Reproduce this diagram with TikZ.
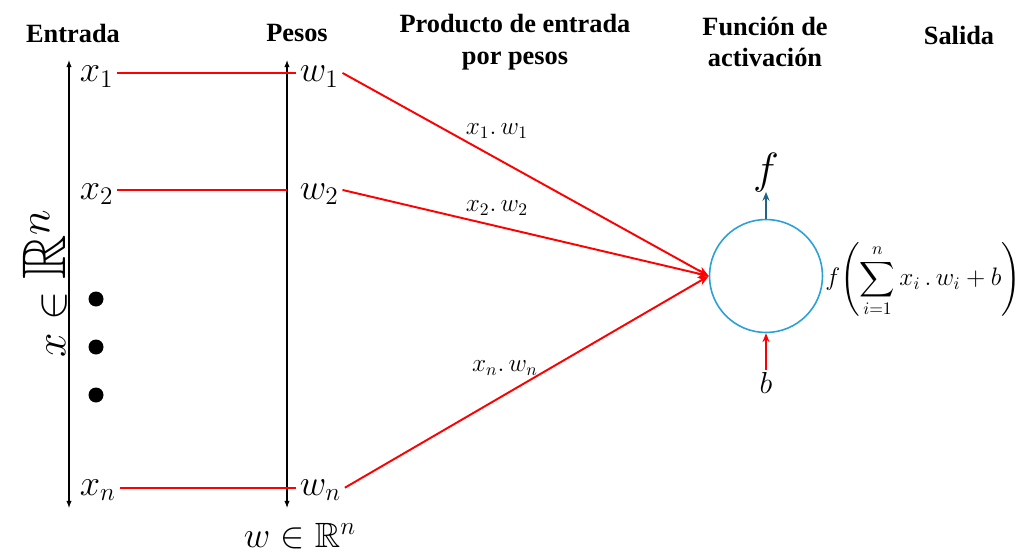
\documentclass[tikz,border=0pt]{standalone}
\usepackage{amssymb}
\usepackage{fontspec}
\newfontfamily\titlefont{Liberation Serif}
\usetikzlibrary{arrows.meta}

\definecolor{nblue}{HTML}{2AA0D8}
\definecolor{nteal}{HTML}{1F6482}

\tikzset{
  title/.style={font=\titlefont\bfseries\fontsize{15}{18}\selectfont, align=center},
  var/.style={font=\fontsize{21}{24}\selectfont, inner sep=2pt},
  prod/.style={font=\fontsize{14}{16}\selectfont, inner sep=0pt},
  redline/.style={red, line width=1.1pt},
  axis/.style={black, line width=0.6pt, {Latex[length=4pt,width=3pt]}-{Latex[length=4pt,width=3pt]}}
}

\begin{document}
\begin{tikzpicture}[x=0.02cm,y=-0.02cm]
\useasboundingbox (0,0) rectangle (1024,554);

% titulos
\node[title] (t1) at (73,33) {Entrada};
\node[title] (t2) at (297,33) {Pesos};
\node[title] (t3) at (515,42) {Producto de entrada\\por pesos};
\node[title] (t4) at (765,42) {Funci\'on de\\activaci\'on};
\node[title] (t5) at (959,35) {Salida};

% ejes
\coordinate (a1) at (69,60);  \coordinate (a2) at (69,508);
\coordinate (b1) at (287,60); \coordinate (b2) at (287,508);
\draw[axis] (a2) -- (a1);
\draw[axis] (b2) -- (b1);
\node[rotate=90, font=\fontsize{35}{38}\selectfont, inner sep=0pt] (xr) at (45,283) {$x\in\mathbb{R}^n$};
\node[font=\fontsize{20}{24}\selectfont] (wr) at (300,536) {$w\in\mathbb{R}^n$};

% entradas y pesos
\node[var, anchor=base west] (x1) at (76,82) {$x_1$};
\node[var, anchor=base west] (x2) at (76,199) {$x_2$};
\node[var, anchor=base west] (xn) at (76,495) {$x_n$};
\node[var, anchor=base west] (w1) at (296,82) {$w_1$};
\node[var, anchor=base west] (w2) at (296,199) {$w_2$};
\node[var, anchor=base west] (wn) at (296,495) {$w_n$};
\foreach \y in {299,347,395} \fill (96,\y) circle (7.5);

\draw[redline] ([yshift=3pt]x1.mid east) -- ([yshift=3pt]w1.mid west);
\draw[redline] ([yshift=3pt]x2.mid east) -- ([yshift=3pt]b1 |- x2.mid east);
\draw[redline] ([yshift=2pt]xn.mid east) -- ([yshift=2pt]wn.mid west);

% neurona
\node[circle, draw=nblue, line width=0.9pt, minimum size=2.26cm, inner sep=0pt] (neuron) at (766,276) {};
\draw[redline, -{Stealth[length=6pt,width=5pt]}] ([yshift=3pt]w1.mid east) -- (neuron.west);
\draw[redline, -{Stealth[length=6pt,width=5pt]}] ([yshift=3pt]w2.mid east) -- (neuron.west);
\draw[redline, -{Stealth[length=6pt,width=5pt]}] ([yshift=2pt]wn.mid east) -- (neuron.west);

\node[prod] (p1) at (497,131) {$x_1.\,w_1$};
\node[prod] (p2) at (497,208) {$x_2.\,w_2$};
\node[prod] (pn) at (505,368) {$x_n.\,w_n$};

\node[font=\fontsize{24}{26}\selectfont, anchor=south, inner sep=0pt] (f) at (766,192) {$f$};
\draw[nteal, line width=1.1pt, -{Stealth[length=5pt,width=4pt]}] (neuron.north) -- (f.south);
\node[font=\fontsize{19}{22}\selectfont, anchor=north, inner sep=1pt] (b) at (766,370) {$b$};
\draw[redline, -{Stealth[length=5pt,width=4pt]}] (b.north) -- (neuron.south);

\node[anchor=west, font=\fontsize{14}{17}\selectfont, inner sep=0pt] (out) at (825,280)
  {$\displaystyle f\!\left(\sum_{i=1}^{n} x_i\,.\,w_i+b\right)$};

\end{tikzpicture}
\end{document}
